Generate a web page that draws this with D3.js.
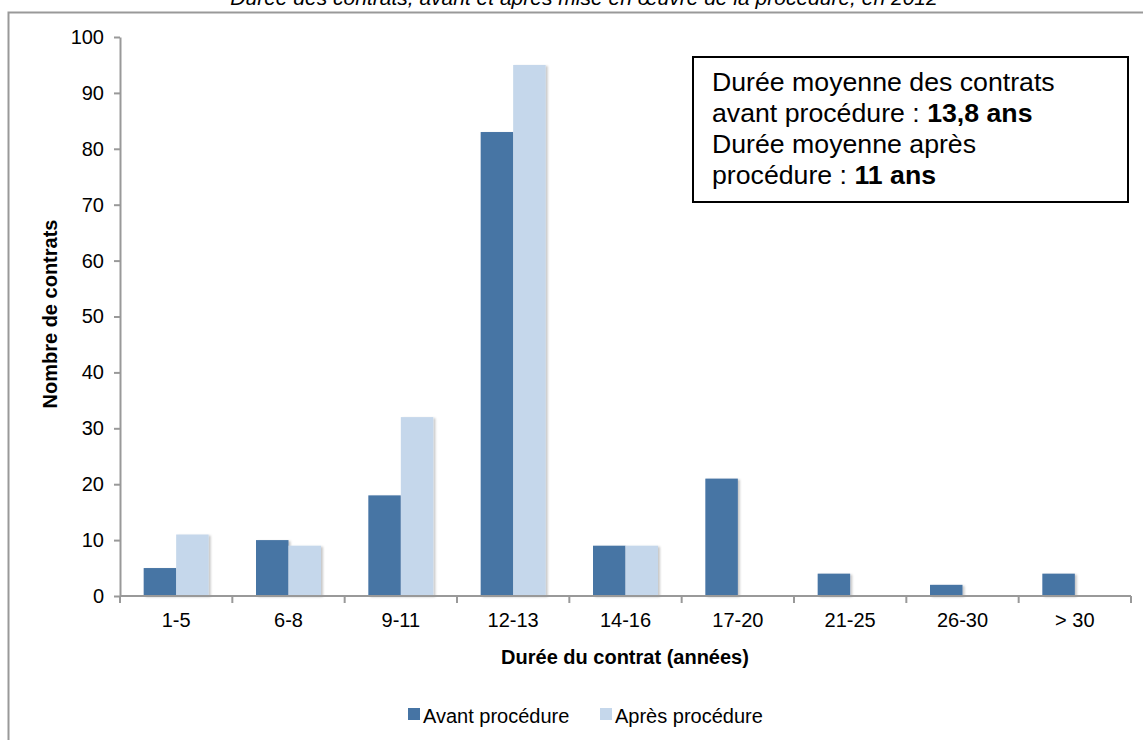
<!DOCTYPE html>
<html><head><meta charset="utf-8">
<script src="https://cdn.jsdelivr.net/npm/d3@7"></script>
<style>
html,body{margin:0;padding:0;background:#fff;}
svg{display:block;font-family:"Liberation Sans",Arial,sans-serif;}
</style></head>
<body>
<svg id="c" width="1143" height="740"></svg>
<script>
const categories = ["1-5","6-8","9-11","12-13","14-16","17-20","21-25","26-30","> 30"];
const avant = [5,10,18,83,9,21,4,2,4];
const apres = [11,9,32,95,9,0,0,0,0];
const seriesNames = ["Avant procédure","Après procédure"];
const yTicks = [0,10,20,30,40,50,60,70,80,90,100];
const colors = ["#4674A4","#C5D7EB"];
const FF = "Liberation Sans, Arial, sans-serif";

const svg = d3.select("#c");
const defs = svg.append("defs");
const f = defs.append("filter").attr("id","sh").attr("x","-20%").attr("y","-20%").attr("width","160%").attr("height","140%");
f.append("feDropShadow").attr("dx",2).attr("dy",1).attr("stdDeviation",1.2).attr("flood-color","#000").attr("flood-opacity",0.22);

// outer frame
svg.append("rect").attr("x",8.5).attr("y",12.5).attr("width",1200).attr("height",800)
  .attr("fill","none").attr("stroke","#999").attr("stroke-width",2);

// title (partly clipped at top, as in the reference)
svg.append("text").attr("x",584).attr("y",5).attr("text-anchor","middle")
  .attr("font-style","italic").attr("font-size",21).attr("fill","#000")
  .text("Durée des contrats, avant et après mise en œuvre de la procédure, en 2012");

const x0 = 120, x1 = 1131, yTop = 37, yBot = 596;
const x = d3.scaleBand().domain(categories).range([x0,x1]).paddingInner(0).paddingOuter(0);
const y = d3.scaleLinear().domain([0,100]).range([yBot,yTop]);
const bw = 32.5;
const sub = d3.scaleBand().domain([0,1]).range([-bw, bw]);

const data = categories.map((c,i)=>({c, v:[avant[i], apres[i]]}));
const g = svg.append("g");
data.forEach(d=>{
  [0,1].forEach(s=>{
    if (d.v[s] <= 0) return;
    g.append("rect")
      .attr("x", x(d.c) + x.bandwidth()/2 + sub(s))
      .attr("y", y(d.v[s]))
      .attr("width", sub.bandwidth())
      .attr("height", yBot - y(d.v[s]))
      .attr("fill", colors[s])
      .attr("filter","url(#sh)");
  });
});

// y axis
const yAxis = d3.axisLeft(y).tickValues(yTicks).tickSize(6).tickPadding(10).tickSizeOuter(0);
const ya = svg.append("g").attr("transform",`translate(${x0},0)`).call(yAxis);
ya.select(".domain").attr("stroke","#999").attr("stroke-width",2);
ya.selectAll(".tick line").attr("stroke","#999").attr("stroke-width",2);
ya.selectAll(".tick text").attr("font-size",20).attr("fill","#000").attr("font-family",FF);

// x axis
const xAxis = d3.axisBottom(x).tickSize(0).tickPadding(17);
const xa = svg.append("g").attr("transform",`translate(0,${yBot})`).call(xAxis);
xa.select(".domain").attr("stroke","#999").attr("stroke-width",2).attr("d",`M${x0},0H${x1}`);
xa.selectAll(".tick text").attr("font-size",20).attr("fill","#000").attr("font-family",FF);
const bounds = categories.map(c=>x(c)).concat([x1]);
xa.selectAll(".bt").data(bounds).enter().append("line").attr("class","bt")
  .attr("x1",d=>d).attr("x2",d=>d).attr("y1",0).attr("y2",7).attr("stroke","#999").attr("stroke-width",2);

// axis titles
svg.append("text").attr("x",625).attr("y",664).attr("text-anchor","middle")
  .attr("font-weight","bold").attr("font-size",20).text("Durée du contrat (années)");
svg.append("text").attr("transform","translate(57,314) rotate(-90)").attr("text-anchor","middle")
  .attr("font-weight","bold").attr("font-size",20).text("Nombre de contrats");

// annotation box
svg.append("rect").attr("x",693).attr("y",57).attr("width",435).attr("height",145)
  .attr("fill","#fff").attr("stroke","#000").attr("stroke-width",2);
const lines = [
  [["Durée moyenne des contrats",false]],
  [["avant procédure : ",false],["13,8 ans",true]],
  [["Durée moyenne après",false]],
  [["procédure : ",false],["11 ans",true]]
];
lines.forEach((ln,i)=>{
  const t = svg.append("text").attr("x",712).attr("y",91+i*31).attr("font-size",26.7).attr("fill","#000");
  ln.forEach(([s,b])=>t.append("tspan").attr("font-weight",b?"bold":"normal").text(s));
});

// legend
const leg = svg.append("g");
const lx = [408, 600];
seriesNames.forEach((n,i)=>{
  leg.append("rect").attr("x",lx[i]).attr("y",708).attr("width",12).attr("height",12).attr("fill",colors[i]);
  leg.append("text").attr("x",lx[i]+15).attr("y",723).attr("font-size",20).attr("fill","#000").text(n);
});
</script>
</body></html>
